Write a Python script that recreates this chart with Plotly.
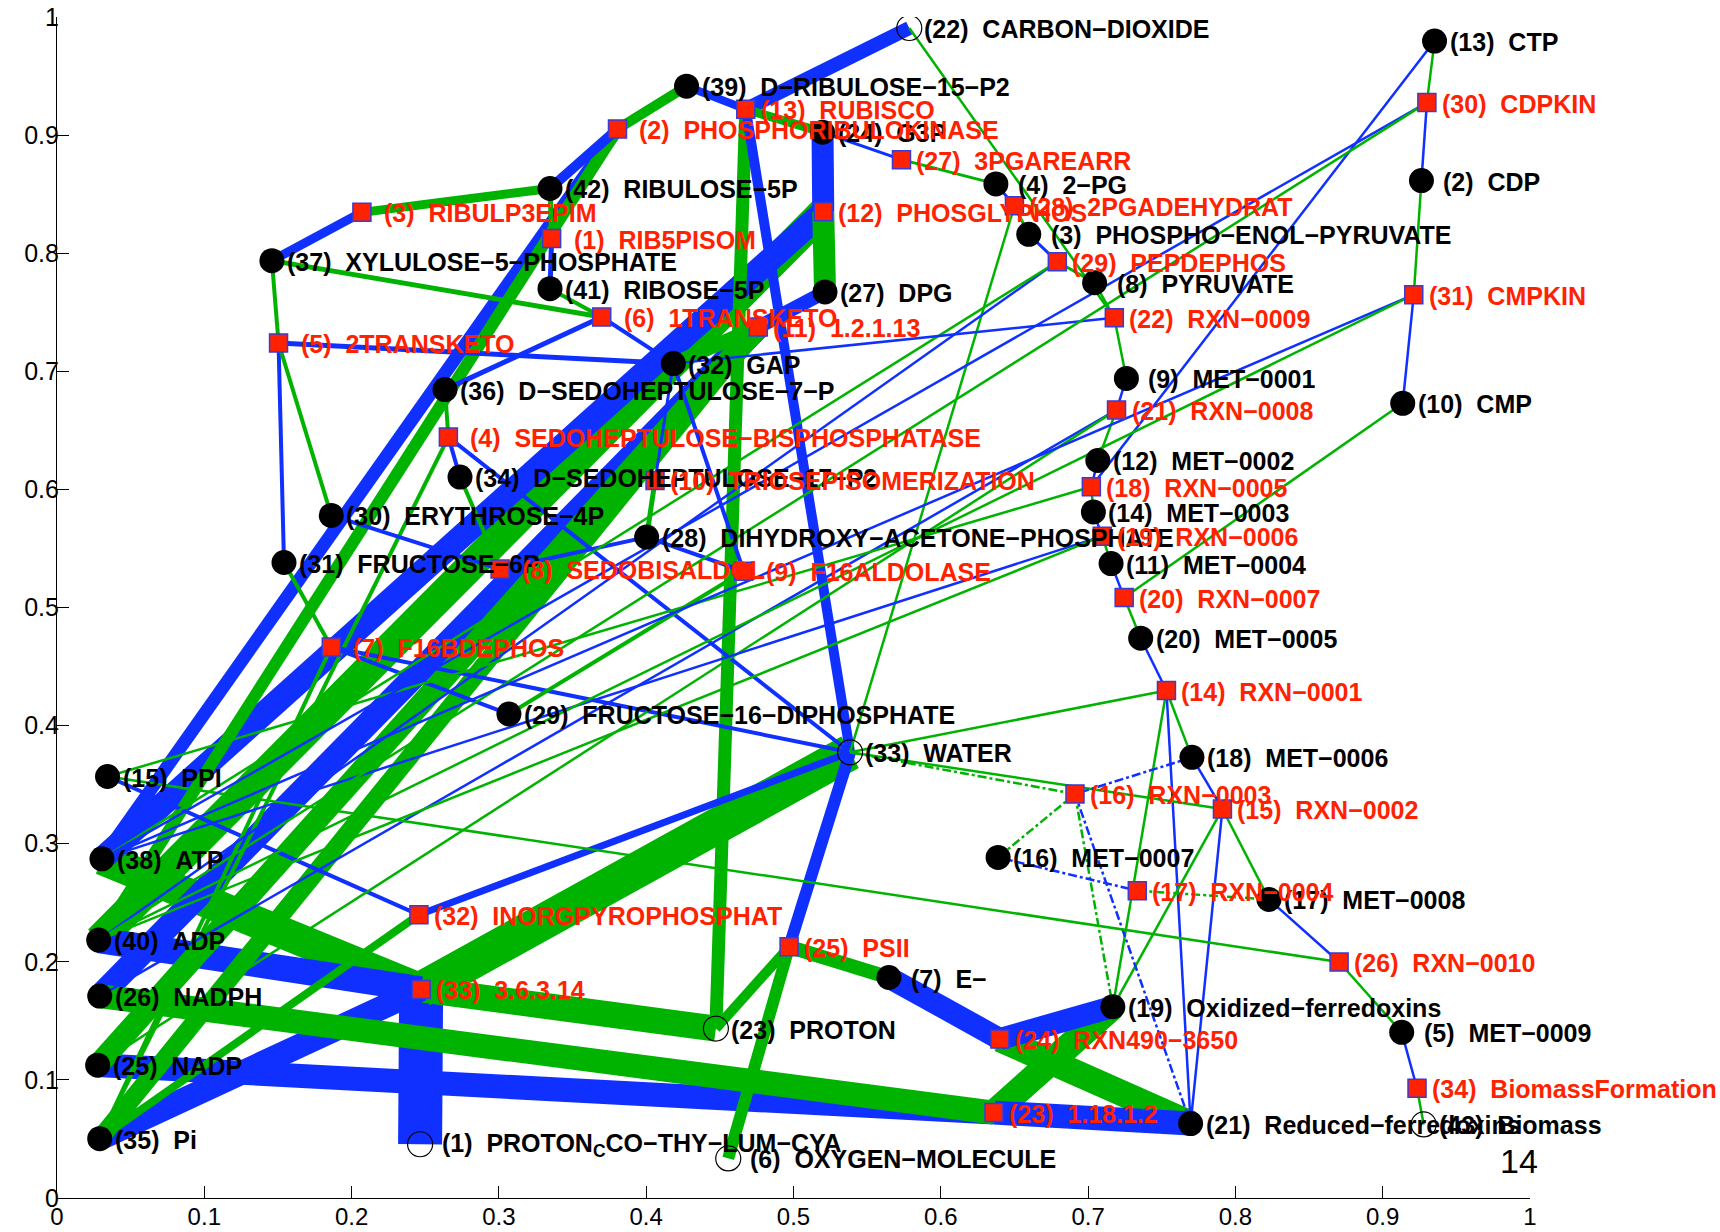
import plotly.graph_objects as go

# ---------------- metabolites ----------------
met_num = list(range(1, 44))
met_name = [
    "PROTON<sub>C</sub>CO−THY−LUM−CYA", "CDP", "PHOSPHO−ENOL−PYRUVATE", "2−PG", "MET−0009",
    "OXYGEN−MOLECULE", "E−", "PYRUVATE", "MET−0001", "CMP", "MET−0004", "MET−0002", "CTP",
    "MET−0003", "PPI", "MET−0007", "MET−0008", "MET−0006", "Oxidized−ferredoxins", "MET−0005",
    "Reduced−ferredoxins", "CARBON−DIOXIDE", "PROTON", "G3P", "NADP", "NADPH", "DPG",
    "DIHYDROXY−ACETONE−PHOSPHATE", "FRUCTOSE−16−DIPHOSPHATE", "ERYTHROSE−4P", "FRUCTOSE−6P",
    "GAP", "WATER", "D−SEDOHEPTULOSE−17−P2", "Pi", "D−SEDOHEPTULOSE−7−P",
    "XYLULOSE−5−PHOSPHATE", "ATP", "D−RIBULOSE−15−P2", "ADP", "RIBOSE−5P", "RIBULOSE−5P", "Biomass",
]
met_x = [0.2465, 0.9263, 0.6597, 0.6374, 0.9129, 0.4557, 0.5648, 0.7044, 0.7260, 0.9136,
         0.7156, 0.7066, 0.9352, 0.7036, 0.0343, 0.6389, 0.8228, 0.7705, 0.7168, 0.7357,
         0.7696, 0.5786, 0.4473, 0.5197, 0.0276, 0.0290, 0.5214, 0.4003, 0.3068, 0.1862,
         0.1541, 0.4184, 0.5384, 0.2736, 0.0290, 0.2634, 0.1459, 0.0305, 0.4274, 0.0283,
         0.3347, 0.3347, 0.9278]
met_y = [0.0455, 0.8615, 0.8160, 0.8587, 0.1403, 0.0335, 0.1867, 0.7750, 0.6940, 0.6729,
         0.5372, 0.6245, 0.9796, 0.5809, 0.3569, 0.2884, 0.2528, 0.3731, 0.1619, 0.4740,
         0.0630, 0.9907, 0.1435, 0.9024, 0.1125, 0.1710, 0.7672, 0.5596, 0.4098, 0.5780,
         0.5381, 0.7065, 0.3774, 0.6104, 0.0502, 0.6845, 0.7937, 0.2872, 0.9414, 0.2184,
         0.7700, 0.8548, 0.0623]
# external / boundary metabolites drawn hollow
met_external = [1, 6, 22, 23, 33, 43]

# ---------------- reactions ----------------
rxn_num = list(range(1, 35))
rxn_name = [
    "RIB5PISOM", "PHOSPHORIBULOKINASE", "RIBULP3EPIM", "SEDOHEPTULOSE−BISPHOSPHATASE",
    "2TRANSKETO", "1TRANSKETO", "F16BDEPHOS", "SEDOBISALDOL", "F16ALDOLASE",
    "TRIOSEPISOMERIZATION", "1.2.1.13", "PHOSGLYPHOS", "RUBISCO", "RXN−0001", "RXN−0002",
    "RXN−0003", "RXN−0004", "RXN−0005", "RXN−0006", "RXN−0007", "RXN−0008", "RXN−0009",
    "1.18.1.2", "RXN490−3650", "PSII", "RXN−0010", "3PGAREARR", "2PGADEHYDRAT", "PEPDEPHOS",
    "CDPKIN", "CMPKIN", "INORGPYROPHOSPHAT", "3.6.3.14", "BiomassFormation",
]
rxn_x = [0.3358, 0.3805, 0.2070, 0.2657, 0.1504, 0.3698, 0.1862, 0.3008, 0.4661, 0.4060,
         0.4761, 0.5202, 0.4676, 0.7532, 0.7912, 0.6911, 0.7334, 0.7022, 0.7096, 0.7245,
         0.7193, 0.7178, 0.6361, 0.6401, 0.4970, 0.8704, 0.5733, 0.6500, 0.6791, 0.9300,
         0.9211, 0.2457, 0.2472, 0.9233]
rxn_y = [0.8124, 0.9052, 0.8346, 0.6443, 0.7240, 0.7460, 0.4665, 0.5325, 0.5307, 0.6076,
         0.7375, 0.8350, 0.9219, 0.4297, 0.3294, 0.3421, 0.2602, 0.6022, 0.5604, 0.5084,
         0.6673, 0.7454, 0.0723, 0.1346, 0.2127, 0.1998, 0.8792, 0.8401, 0.7928, 0.9275,
         0.7649, 0.2398, 0.1766, 0.0929]
# reactions of the alternative branch (drawn dash-dot)
alt_rxns = [16, 17]

# ---------------- links ----------------
# (source, target, flux): metabolite -> reaction is consumption, reaction -> metabolite is production
links = [
    ("M37", "R3", 9), ("R3", "M42", 9), ("M42", "R2", 10), ("R2", "M39", 10),
    ("M39", "R13", 8), ("M22", "R13", 14), ("R13", "M24", 9), ("R13", "M23", 13),
    ("M33", "R13", 10), ("M24", "R12", 22), ("R12", "M27", 22), ("M27", "R11", 14),
    ("R11", "M32", 14), ("M38", "R2", 13), ("R2", "M40", 12), ("M38", "R12", 24),
    ("R12", "M40", 30), ("M26", "R11", 24), ("R11", "M25", 22), ("R11", "M35", 18),
    ("M40", "R33", 26), ("M35", "R33", 24), ("M1", "R33", 44), ("R33", "M38", 32),
    ("R33", "M23", 26), ("R33", "M33", 36),
    ("M25", "R23", 24), ("M21", "R23", 24), ("R23", "M26", 24), ("R23", "M19", 26),
    ("M7", "R24", 22), ("M19", "R24", 22), ("R24", "M21", 26),
    ("M33", "R25", 12), ("R25", "M7", 14), ("R25", "M23", 10), ("R25", "M6", 12),
    ("M15", "R32", 4), ("M33", "R32", 7), ("R32", "M35", 8),
    ("M41", "R1", 5), ("R1", "M42", 5),
    ("M32", "R5", 5), ("M31", "R5", 4), ("R5", "M37", 4), ("R5", "M30", 4),
    ("M36", "R6", 5), ("M32", "R6", 4), ("R6", "M37", 5), ("R6", "M41", 4),
    ("M34", "R4", 4), ("M33", "R4", 4), ("R4", "M36", 4), ("R4", "M35", 4),
    ("M29", "R7", 4), ("M33", "R7", 4), ("R7", "M31", 4), ("R7", "M35", 4),
    ("M30", "R8", 4), ("M28", "R8", 4), ("R8", "M34", 4),
    ("M32", "R9", 4), ("M28", "R9", 4), ("R9", "M29", 4),
    ("M32", "R10", 3), ("R10", "M28", 5),
    ("M24", "R27", 3), ("R27", "M4", 3),
    ("M4", "R28", 3), ("R28", "M3", 3), ("R28", "M33", 2.5),
    ("M3", "R29", 3), ("M40", "R29", 2.5), ("R29", "M8", 3), ("R29", "M38", 2.5),
    ("R22", "M8", 2.5), ("M32", "R22", 2.5), ("R22", "M9", 2.5), ("R22", "M22", 2.5),
    ("M9", "R21", 2.5), ("R21", "M12", 2.5), ("M26", "R21", 2.5), ("R21", "M25", 2.5),
    ("M12", "R18", 2.5), ("M13", "R18", 2.5), ("R18", "M14", 2.5), ("R18", "M15", 2.5),
    ("M14", "R19", 2.5), ("M38", "R19", 2.5), ("R19", "M11", 2.5), ("R19", "M40", 2.5),
    ("M11", "R20", 2.5), ("R20", "M20", 2.5), ("R20", "M10", 2.5),
    ("M20", "R14", 2.5), ("M21", "R14", 2.5), ("R14", "M18", 2.5), ("R14", "M19", 2.5),
    ("R14", "M33", 2.5),
    ("M18", "R15", 2.5), ("M21", "R15", 2.5), ("R15", "M17", 2.5), ("R15", "M19", 2.5),
    ("R15", "M33", 2.5),
    ("M18", "R16", 2.5), ("M21", "R16", 2.5), ("R16", "M16", 2.5), ("R16", "M19", 2.5),
    ("R16", "M33", 2.5),
    ("M16", "R17", 2.5), ("R17", "M17", 2.5),
    ("M17", "R26", 2.5), ("R26", "M5", 2.5), ("R26", "M15", 2.5),
    ("M5", "R34", 2.5), ("R34", "M43", 2.5),
    ("M2", "R30", 2.5), ("M38", "R30", 2.5), ("R30", "M13", 2.5), ("R30", "M40", 2.5),
    ("M10", "R31", 2.5), ("M38", "R31", 2.5), ("R31", "M2", 2.5), ("R31", "M40", 2.5),
]

BLUE = "#1030ff"
GREEN = "#00b300"
RED = "#ff2200"
FONT = "Liberation Sans, Arial, Helvetica, sans-serif"


def pos(key):
    i = int(key[1:]) - 1
    if key[0] == "M":
        return met_x[i], met_y[i]
    return rxn_x[i], rxn_y[i]


fig = go.Figure()

# links, widest first so thin ones stay visible on top
for src, dst, flux in sorted(links, key=lambda l: -l[2]):
    x0, y0 = pos(src)
    x1, y1 = pos(dst)
    consumed = src[0] == "M"
    rxn = int((dst if consumed else src)[1:])
    fig.add_trace(go.Scatter(
        x=[x0, x1], y=[y0, y1], mode="lines",
        line=dict(color=BLUE if consumed else GREEN, width=flux,
                  dash="dashdot" if rxn in alt_rxns else "solid"),
        hoverinfo="skip", showlegend=False,
    ))

# metabolite markers
solid = [i for i in range(len(met_num)) if met_num[i] not in met_external]
hollow = [i for i in range(len(met_num)) if met_num[i] in met_external]
fig.add_trace(go.Scatter(
    x=[met_x[i] for i in solid], y=[met_y[i] for i in solid], mode="markers",
    marker=dict(symbol="circle", size=25, color="black", line=dict(width=0)),
    hoverinfo="skip", showlegend=False,
))
fig.add_trace(go.Scatter(
    x=[met_x[i] for i in hollow], y=[met_y[i] for i in hollow], mode="markers",
    marker=dict(symbol="circle-open", size=25, color="black", line=dict(width=1.2)),
    hoverinfo="skip", showlegend=False,
))
# reaction markers
fig.add_trace(go.Scatter(
    x=rxn_x, y=rxn_y, mode="markers",
    marker=dict(symbol="square", size=18, color=RED, line=dict(color="#3a3ad6", width=1.5)),
    hoverinfo="skip", showlegend=False,
))

NB = "\u00a0"


def label(n, name):
    lead = NB if n < 10 else ""
    return f"<b>{lead}({n}){NB}{NB}{name}</b>"


for n, name, x, y in zip(met_num, met_name, met_x, met_y):
    fig.add_annotation(x=x, y=y, text=label(n, name), showarrow=False,
                       xanchor="left", yanchor="middle", xshift=13, yshift=-1,
                       font=dict(family=FONT, size=25, color="black"))
for n, name, x, y in zip(rxn_num, rxn_name, rxn_x, rxn_y):
    fig.add_annotation(x=x, y=y, text=label(n, name), showarrow=False,
                       xanchor="left", yanchor="middle", xshift=13, yshift=-1,
                       font=dict(family=FONT, size=25, color=RED))

# page number
fig.add_annotation(x=0.9925, y=0.031, text="14", showarrow=False,
                   xanchor="center", yanchor="middle",
                   font=dict(family=FONT, size=34, color="black"))

tick_vals = [i / 10 for i in range(11)]
tick_text = ["0", "0.1", "0.2", "0.3", "0.4", "0.5", "0.6", "0.7", "0.8", "0.9", "1"]
axis_common = dict(
    range=[0, 1], showgrid=False, zeroline=False, showline=True, linecolor="black",
    linewidth=1.2, ticks="inside", ticklen=12, tickwidth=1.2, tickcolor="black",
    tickvals=tick_vals, ticktext=tick_text, automargin=False, mirror=False,
)
fig.update_layout(
    width=1720, height=1232,
    margin=dict(l=57, r=190, t=17, b=34),
    paper_bgcolor="white", plot_bgcolor="white",
    xaxis=dict(axis_common, ticklabelstandoff=-3,
               tickfont=dict(family=FONT, size=24, color="black")),
    yaxis=dict(axis_common, ticklabelstandoff=-8,
               tickfont=dict(family=FONT, size=25, color="black")),
)

fig.write_html("out.html")
